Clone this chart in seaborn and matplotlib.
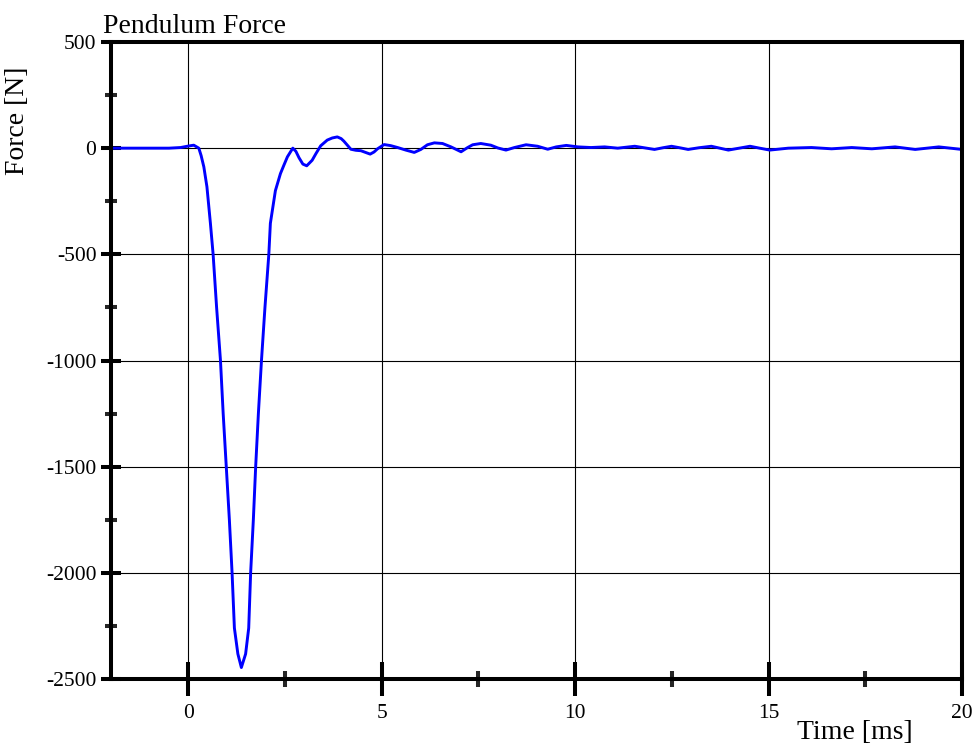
import matplotlib
matplotlib.use("Agg")
import matplotlib.pyplot as plt
from matplotlib.ticker import MultipleLocator
import seaborn as sns
import pandas as pd

time_ms = [-2.0, -1.0, -0.5, -0.2, 0.0, 0.14, 0.27, 0.33, 0.40, 0.48, 0.57, 0.64,
           0.73, 0.83, 0.90, 0.98, 1.06, 1.13, 1.19, 1.28, 1.37, 1.48, 1.56, 1.61,
           1.68, 1.74, 1.81, 1.89, 1.98, 2.08, 2.12, 2.25, 2.38, 2.47, 2.56, 2.70,
           2.78, 2.86, 2.96, 3.06, 3.20, 3.30, 3.42, 3.59, 3.72, 3.85, 3.95, 4.02,
           4.12, 4.20, 4.33, 4.46, 4.58, 4.70, 4.80, 4.89, 5.06, 5.23, 5.41, 5.62,
           5.84, 6.01, 6.18, 6.36, 6.57, 6.79, 7.05, 7.22, 7.35, 7.56, 7.82, 8.0,
           8.21, 8.43, 8.73, 9.03, 9.29, 9.51, 9.77, 10.07, 10.41, 10.76, 11.1, 11.54,
           12.05, 12.27, 12.49, 12.7, 12.92, 13.2, 13.52, 13.74, 13.96, 14.24, 14.52, 14.77,
           15.03, 15.51, 16.11, 16.63, 17.15, 17.67, 18.27, 18.79, 19.40, 20.0]
force_N = [0, 0, 0, 3, 10, 14, 0, -35, -88, -182, -354, -500,
           -750, -1000, -1250, -1500, -1750, -2000, -2260, -2382, -2446, -2382, -2260, -2000,
           -1750, -1500, -1250, -1000, -750, -500, -354, -200, -120, -80, -41, 0,
           -15, -45, -75, -83, -57, -25, 11, 38, 48, 53, 45, 33,
           12, -5, -10, -12, -20, -28, -18, -3, 17, 12, 3, -9,
           -20, -6, 16, 25, 22, 6, -17, 3, 16, 22, 14, 1,
           -9, 3, 16, 9, -5, 6, 13, 6, 3, 6, 0, 9,
           -6, 2, 9, 2, -6, 2, 9, 0, -9, 0, 9, 0,
           -9, 0, 3, -3, 3, -3, 6, -6, 6, -6]

x_major = [0, 5, 10, 15, 20]
y_major = [-2500, -2000, -1500, -1000, -500, 0, 500]

sns.set_style("white")
plt.rcParams['font.family'] = ['Liberation Serif', 'DejaVu Serif']
plt.rcParams['axes.unicode_minus'] = False
plt.rcParams['text.color'] = 'black'
plt.rcParams['axes.labelcolor'] = 'black'

df = pd.DataFrame({"time": time_ms, "force": force_N})

fig = plt.figure(figsize=(9.72, 7.46), dpi=100)
ax = fig.add_axes([111/972, 1-679/746, 851/972, 637/746])

sns.lineplot(data=df, x="time", y="force", ax=ax, color="#0000FF", linewidth=2.1,
             sort=False, estimator=None)

ax.set_xlim(-2, 20)
ax.set_ylim(-2500, 500)
ax.set_xticks(x_major)
ax.set_yticks(y_major)
ax.xaxis.set_minor_locator(MultipleLocator(2.5))
ax.yaxis.set_minor_locator(MultipleLocator(250))

ax.grid(True, which="major", color="black", linewidth=0.8)
ax.set_axisbelow(True)

for s in ax.spines.values():
    s.set_color("black")
    s.set_linewidth(2.9)
    s.set_visible(True)

ax.tick_params(axis="x", which="major", direction="inout", length=24, width=2.9,
               labelsize=15.5, pad=6, colors="black", bottom=True)
ax.tick_params(axis="x", which="minor", direction="inout", length=12, width=2.9,
               bottom=True)
ax.tick_params(axis="y", which="major", direction="inout", length=15, width=2.9,
               labelsize=15.5, pad=3, colors="black", left=True)
ax.tick_params(axis="y", which="minor", direction="inout", length=8, width=2.9,
               left=True)

ax.set_xlabel("Time [ms]", fontsize=20)
ax.set_ylabel("Force [N]", fontsize=20)
ax.xaxis.set_label_coords(0.874, -0.064)
ax.yaxis.set_label_coords(-0.095, 0.876)

fig.text(103/972, 1-33/746, "Pendulum Force", fontsize=20, ha="left", va="baseline")

fig.savefig("out.png", dpi=100)
